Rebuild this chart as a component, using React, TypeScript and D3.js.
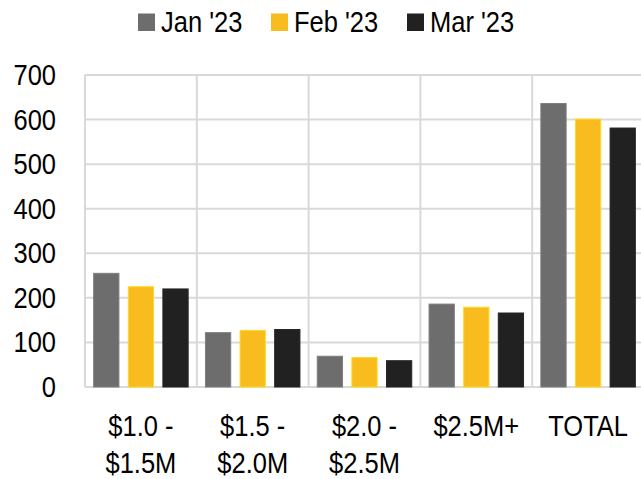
import React from "react";
import * as d3 from "d3";

const categories = ["$1.0 -\n$1.5M", "$1.5 -\n$2.0M", "$2.0 -\n$2.5M", "$2.5M+", "TOTAL"];
const seriesNames = ["Jan '23", "Feb '23", "Mar '23"];
const jan = [255, 122, 69, 186, 636];
const feb = [225, 127, 66, 179, 601];
const mar = [220, 129, 59, 166, 581];
const yTicks = [0, 100, 200, 300, 400, 500, 600, 700];
const colors = ["#6d6d6d", "#f8bc1e", "#212121"];

const W = 641, H = 479;
const FONT = "'Liberation Sans', Arial, sans-serif";
const FS = 30;
const SX = 0.85;

function NText({ x, y, anchor, children }: { x: number; y: number; anchor: "start" | "middle" | "end"; children: React.ReactNode }) {
  return (
    <text transform={`translate(${x},${y}) scale(${SX},1)`} textAnchor={anchor} fontSize={FS} fill="#000">
      {children}
    </text>
  );
}

export default function App() {
  const series = [jan, feb, mar];
  const x0 = d3.scaleBand<number>().domain(d3.range(categories.length)).range([85, 644]).paddingInner(0).paddingOuter(0);
  const x1 = d3.scaleBand<number>().domain([0, 1, 2]).range([0, x0.bandwidth()]).paddingInner(0.27).paddingOuter(0.25);
  const y = d3.scaleLinear().domain([0, 700]).range([387, 75]);
  const grid = "#d9d9d9";
  const legendX = [138, 271, 407];

  return (
    <svg width={W} height={H} style={{ position: "absolute", left: 0, top: 0 }} fontFamily={FONT}>
      <rect width={W} height={H} fill="#fff" />
      {yTicks.map((t) => (
        <line key={t} x1={85} x2={W} y1={y(t)} y2={y(t)} stroke={grid} strokeWidth={2} />
      ))}
      {d3.range(categories.length + 1).map((i) => (
        <line key={i} x1={85 + i * x0.bandwidth()} x2={85 + i * x0.bandwidth()} y1={y(700)} y2={y(0)} stroke={grid} strokeWidth={2} />
      ))}
      {yTicks.map((t) => (
        <NText key={t} x={56} y={y(t) + 10} anchor="end">{t}</NText>
      ))}
      {categories.map((c, ci) =>
        series.map((s, si) => (
          <rect key={`${ci}-${si}`} x={(x0(ci) as number) + (x1(si) as number)} y={y(s[ci])} width={x1.bandwidth()} height={y(0) - y(s[ci])} fill={colors[si]} stroke={d3.color(colors[si])!.brighter(0.4).toString()} strokeWidth={1} />
        ))
      )}
      {categories.map((c, ci) => {
        const lines = c.split("\n");
        const cx = (x0(ci) as number) + x0.bandwidth() / 2;
        return (
          <g key={c}>
            {lines.map((l, li) => (
              <NText key={li} x={cx} y={436 + li * 37} anchor="middle">{l}</NText>
            ))}
          </g>
        );
      })}
      {seriesNames.map((n, i) => (
        <g key={n} transform={`translate(${legendX[i]},0)`}>
          <rect x={0} y={13.5} width={17} height={17.5} fill={colors[i]} />
          <NText x={23} y={32} anchor="start">{n}</NText>
        </g>
      ))}
    </svg>
  );
}
